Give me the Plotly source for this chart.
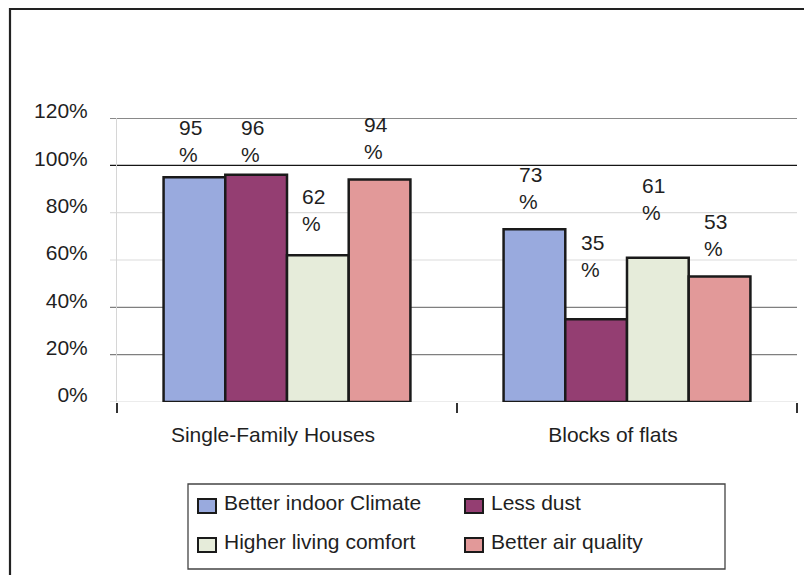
import plotly.graph_objects as go

# ---- data -------------------------------------------------------------
categories = ["Single-Family Houses", "Blocks of flats"]
series_names = ["Better indoor Climate", "Less dust",
                "Higher living comfort", "Better air quality"]
better_indoor_climate = [95, 73]
less_dust = [96, 35]
higher_living_comfort = [62, 61]
better_air_quality = [94, 53]
y_tick_values = [0, 20, 40, 60, 80, 100, 120]
y_tick_labels = ["0%", "20%", "40%", "60%", "80%", "100%", "120%"]

series_values = [better_indoor_climate, less_dust,
                 higher_living_comfort, better_air_quality]

# ---- styling ----------------------------------------------------------
colors = ["#99AADE", "#943E72", "#E6ECDA", "#E29999"]
grid_colors = {0: "#d9d9d9", 20: "#7f7f7f", 40: "#7f7f7f", 60: "#dcdcdc",
               80: "#dcdcdc", 100: "#151515", 120: "#151515"}
FONT = "Liberation Sans, Arial, sans-serif"
TEXT = "#1f1f1f"
FS = 21
OUTLINE = "#1a1a1a"
BARGAP = 0.274
# pixel gap between each bar top and its value label, per category / series
label_lift = [[9, 7, 18, 15], [14, 36, 32, 15]]

W, H = 804, 575
ML, MR, MT, MB = 117, 7, 118, 173
PW, PH = W - ML - MR, H - MT - MB


def px(x):
    return (x - ML) / PW


def py(y):
    return (H - MB - y) / PH


fig = go.Figure()
for name, vals, col in zip(series_names, series_values, colors):
    fig.add_trace(go.Bar(
        x=categories, y=vals, name=name,
        marker=dict(color=col, line=dict(color=OUTLINE, width=2.5)),
        showlegend=False,
    ))

# value labels ("95" over "%"), left aligned block above each bar
n = len(series_values)
slot = (1 - BARGAP) / n
for i, vals in enumerate(series_values):
    for j, v in enumerate(vals):
        fig.add_annotation(
            x=j + (i - (n - 1) / 2) * slot, y=v, xref="x", yref="y",
            text=f"{v}<br>%", showarrow=False, align="left",
            xanchor="center", yanchor="bottom",
            xshift=-4, yshift=label_lift[j][i],
            font=dict(family=FONT, size=FS, color=TEXT),
        )

shapes = []
# horizontal gridlines, each with its own tone
for t in y_tick_values:
    shapes.append(dict(type="line", xref="paper", yref="y",
                       x0=px(110), x1=1, y0=t, y1=t, layer="below",
                       line=dict(color=grid_colors[t], width=1.2)))

# outer frame of the chart (right and bottom edges run past the canvas)
shapes.append(dict(type="rect", xref="paper", yref="paper",
                   x0=px(10), x1=px(840), y0=py(600), y1=py(9),
                   line=dict(color="#222222", width=2.2)))

# legend box with two columns of entries
shapes.append(dict(type="rect", xref="paper", yref="paper",
                   x0=px(188), x1=px(725), y0=py(569), y1=py(484),
                   line=dict(color="#444444", width=1.3)))
legend_cols = [198, 465]
legend_rows = [506, 545]
for k, (name, col) in enumerate(zip(series_names, colors)):
    cx = legend_cols[k % 2]
    cy = legend_rows[k // 2]
    shapes.append(dict(type="rect", xref="paper", yref="paper",
                       x0=px(cx), x1=px(cx + 18), y0=py(cy + 7), y1=py(cy - 7),
                       fillcolor=col, line=dict(color=OUTLINE, width=2)))
    fig.add_annotation(x=px(cx + 24), y=py(cy - 4), xref="paper", yref="paper",
                       text=name, showarrow=False, xanchor="left",
                       yanchor="middle",
                       font=dict(family=FONT, size=FS, color=TEXT))

fig.update_layout(
    template="none",
    width=W, height=H,
    margin=dict(l=ML, r=MR, t=MT, b=MB, pad=0),
    paper_bgcolor="white", plot_bgcolor="white",
    barmode="group", bargap=BARGAP, bargroupgap=0,
    showlegend=False,
    shapes=shapes,
    font=dict(family=FONT, size=FS, color=TEXT),
    xaxis=dict(
        type="category", range=[-0.5, 1.5], automargin=False,
        showgrid=False, zeroline=False, showline=False,
        tickson="boundaries", ticks="outside", ticklen=10,
        tickwidth=1.5, tickcolor="#333333",
        ticklabelshift=-14, ticklabelstandoff=18,
        tickfont=dict(family=FONT, size=FS, color=TEXT),
    ),
    yaxis=dict(
        range=[0, 120], automargin=False,
        tickmode="array", tickvals=y_tick_values, ticktext=y_tick_labels,
        showgrid=False, zeroline=False,
        showline=True, linecolor="#d6d6d6", linewidth=1,
        ticks="", ticklabelstandoff=24, ticklabelshift=-7,
        tickfont=dict(family=FONT, size=FS, color=TEXT),
    ),
)

fig.write_html("out.html")
